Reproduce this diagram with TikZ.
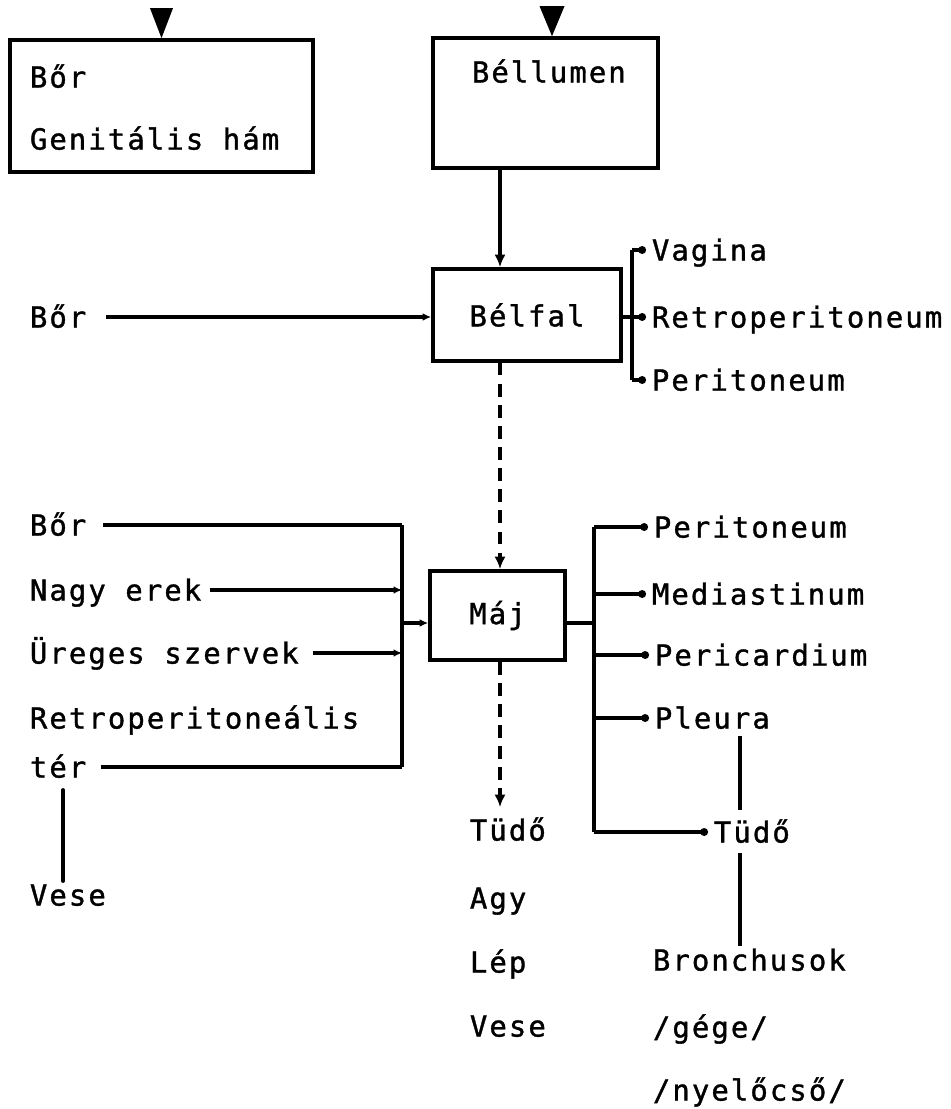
\documentclass[tikz,border=0pt]{standalone}
\usepackage{fontspec}
\newfontfamily\typewriter{DejaVu Sans Mono}[LetterSpace=7.1,FakeBold=1.2]
\usepackage{tikz}
\usetikzlibrary{calc}
\usetikzlibrary{arrows.meta}
\usetikzlibrary{positioning}

\begin{document}
\begin{tikzpicture}[
x=0.025cm, y=-0.025cm,
Box/.style={draw,line width=2.6pt,rectangle,inner sep=0pt},
Label/.style={anchor=west,inner xsep=4pt,inner ysep=0pt,text height=15pt,text depth=0pt},
Link/.style={line width=2.4pt},
SmallTip/.style={Link,-{Latex[length=6pt,width=5.5pt]}},
DotTip/.style={Link,-{Circle[length=5.5pt]}},
BigTip/.style={Link,-{Latex[length=9pt,width=8pt]}},
DashTip/.style={BigTip,dash pattern=on 9pt off 6pt},
every node/.style={font=\typewriter\fontsize{20.6}{24}\selectfont}
]
\useasboundingbox (0,0) rectangle (951,1109);

% columns of the buses
\coordinate (axis) at (500,0);
\coordinate (brk) at (632,317);
\coordinate (lbus) at (402,0);
\coordinate (rbus) at (594,0);
\coordinate (majin) at (0,623);
\coordinate (rcol) at (740,0);
\coordinate (lcol) at (63,0);

% boxes
\node[Box,minimum width=7.575cm,minimum height=3.3cm] (bor1) at (161.5,106) {};
\node[Box,minimum width=5.625cm,minimum height=3.25cm] (bellumen) at (545.5,103) {};
\node[Box,minimum width=4.7cm,minimum height=2.3cm] (belfal) at (527,315) {Bélfal};
\node[Box,minimum width=3.375cm,minimum height=2.225cm] (maj) at (497.5,615.5) {Máj};

\fill (bor1.north) -- ++(-11.5,-30) -- ++(23,0) -- cycle;
\fill ($(bellumen.north)+(6.5,0)$) -- ++(-12.5,-30) -- ++(25,0) -- cycle;

\node[Label] (bor1a) at (24,77) {Bőr};
\node[Label] (genital) at (24,139) {Genitális hám};
\node[Label] (bellumtext) at (466,72) {Béllumen};

% Belfal
\node[Label] (bor2) at (24,317) {Bőr};
\node[Label] (vagina) at (646,250) {Vagina};
\node[Label] (retro) at (646,317) {Retroperitoneum};
\node[Label] (perit1) at (646,380) {Peritoneum};

\draw[BigTip] (bellumen.south -| axis) -- (belfal.north -| axis);
\draw[SmallTip,shorten <=10pt] (bor2.east) -- (bor2.east -| belfal.west);
\draw[Link] (belfal.east |- brk) -- (brk);
\draw[Link] (vagina.west -| brk) -- (perit1.west -| brk);
\draw[DotTip] (vagina.west -| brk) -- (vagina.west);
\draw[DotTip] (brk) -- (retro.west);
\draw[DotTip] (perit1.west -| brk) -- (perit1.west);

% Maj, left side
\node[Label] (bor3) at (24,525) {Bőr};
\node[Label] (nagy) at (24,590) {Nagy erek};
\node[Label] (ureges) at (24,653) {Üreges szervek};
\node[Label] (retrolab) at (24,718) {Retroperitoneális};
\node[Label] (ter) at (24,767) {tér};
\node[Label] (vese1) at (24,895) {Vese};

\draw[DashTip] (belfal.south -| axis) -- (maj.north -| axis);
\draw[Link] (bor3.east -| lbus) -- (ter.east -| lbus);
\draw[Link,shorten <=8pt] (bor3.east) -- (bor3.east -| lbus);
\draw[SmallTip,shorten <=2pt] (nagy.east) -- (nagy.east -| lbus);
\draw[SmallTip,shorten <=6pt] (ureges.east) -- (ureges.east -| lbus);
\draw[Link,shorten <=6pt] (ter.east) -- (ter.east -| lbus);
\draw[SmallTip] (majin -| lbus) -- (majin -| maj.west);
\draw[Link,line cap=round] ($(ter.south -| lcol)+(0,12)$) -- ($(vese1.north -| lcol)+(0,-3)$);

% Maj, right side
\node[Label] (perit2) at (648,527) {Peritoneum};
\node[Label] (medi) at (646,594) {Mediastinum};
\node[Label] (peri) at (649,655) {Pericardium};
\node[Label] (pleura) at (649,718) {Pleura};
\node[Label] (tudo2) at (708,832) {Tüdő};
\node[Label] (bronch) at (647,960) {Bronchusok};
\node[Label] (gege) at (647,1027) {/gége/};
\node[Label] (nyelo) at (647,1090) {/nyelőcső/};

\draw[Link] (majin -| maj.east) -- (majin -| rbus);
\draw[Link] (perit2.west -| rbus) -- (tudo2.west -| rbus);
\draw[DotTip] (perit2.west -| rbus) -- (perit2.west);
\draw[DotTip] (medi.west -| rbus) -- (medi.west);
\draw[DotTip] (peri.west -| rbus) -- (peri.west);
\draw[DotTip] (pleura.west -| rbus) -- (pleura.west);
\draw[DotTip] (tudo2.west -| rbus) -- (tudo2.west);
\draw[Link] ($(pleura.south -| rcol)+(0,7)$) -- ($(tudo2.north -| rcol)+(0,-11)$);
\draw[Link] ($(tudo2.south -| rcol)+(0,10)$) -- ($(bronch.north -| rcol)+(0,-3)$);

% below Maj
\node[Label] (tudo1) at (464,830) {Tüdő};
\node[Label] (agy) at (464,898) {Agy};
\node[Label] (lep) at (464,962) {Lép};
\node[Label] (vese2) at (464,1026) {Vese};

\draw[DashTip] (maj.south -| axis) -- ($(tudo1.north -| axis)+(0,-12)$);

\end{tikzpicture}
\end{document}
